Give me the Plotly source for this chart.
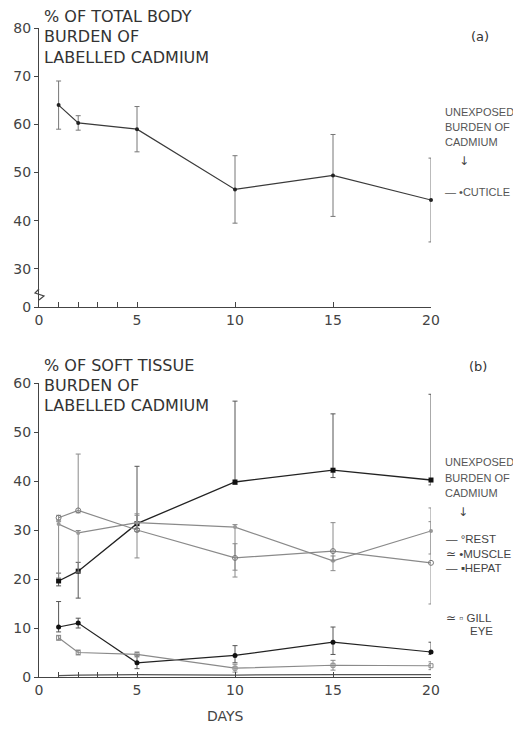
import plotly.graph_objects as go

# ---------------- data ----------------
days = [1, 2, 5, 10, 15, 20]
x_tickvals = [0, 1, 2, 3, 4, 5, 10, 15, 20]
x_ticktext = ["0", "", "", "", "", "5", "10", "15", "20"]

# panel (a): cuticle, % of total body burden
cuticle = [64.0, 60.3, 59.0, 46.5, 49.4, 44.3]
cuticle_err = [5.0, 1.5, 4.7, 7.0, 8.5, 8.7]
a_break_value = 22.1
a_tickvals = [a_break_value, 30, 40, 50, 60, 70, 80]
a_ticktext = ["0", "30", "40", "50", "60", "70", "80"]

# panel (b): % of soft tissue burden
hepat = [19.6, 21.6, 31.3, 39.8, 42.2, 40.2]
hepat_up = [1.6, 1.8, 11.7, 16.5, 11.5, 17.5]
hepat_dn = [1.0, 5.5, 1.0, 0.5, 1.5, 1.0]

muscle = [31.2, 29.4, 31.5, 30.6, 23.7, 29.8]
muscle_up = [0.5, 0.5, 1.8, 0.5, 1.0, 4.7]
muscle_dn = [11.0, 8.0, 1.8, 10.2, 2.0, 4.7]

rest = [32.5, 34.0, 30.0, 24.3, 25.7, 23.3]
rest_up = [0.5, 11.5, 3.0, 2.9, 5.8, 8.4]
rest_dn = [0.5, 0.5, 5.7, 2.5, 2.0, 8.4]

gill = [10.2, 11.0, 2.9, 4.4, 7.1, 5.1]
gill_up = [5.2, 1.0, 1.6, 2.0, 3.1, 2.0]
gill_dn = [1.0, 1.0, 1.2, 1.5, 2.5, 0.5]

eye = [8.0, 5.0, 4.6, 1.8, 2.4, 2.3]
eye_err = [0.5, 0.5, 0.5, 0.8, 1.0, 0.8]

other = [0.3, 0.4, 0.5, 0.4, 0.5, 0.5]

b_tickvals = [0, 10, 20, 30, 40, 50, 60]

# ---------------- layout helpers ----------------
# page body has an 8px margin, so the figure is 8px smaller than the window
OFF = 8
W, H = 521 - OFF, 729 - OFF
PLOT_L, PLOT_R, PLOT_T, PLOT_B = 39, 431, 28, 677   # plot area in window pixels
L = PLOT_L - OFF
R = W - (PLOT_R - OFF)
T = PLOT_T - OFF
B = H - (PLOT_B - OFF)
PW = PLOT_R - PLOT_L
PH = PLOT_B - PLOT_T

def px(xp):
    return (xp - PLOT_L) / PW
def py(yp):
    return (PLOT_B - yp) / PH

FONT = "DejaVu Sans"
LFONT = "Liberation Sans"
INK = "#333333"
GREY = "#8a8a8a"

fig = go.Figure()

def err(arr, arrm=None, color=GREY):
    d = dict(type="data", array=arr, color=color, thickness=1, width=2.5, visible=True)
    if arrm is not None:
        d["symmetric"] = False
        d["arrayminus"] = arrm
    return d

# panel a
fig.add_trace(go.Scatter(x=days, y=cuticle, mode="lines+markers", name="CUTICLE",
                         line=dict(color="#3a3a3a", width=1.2),
                         marker=dict(symbol="circle", size=4, color="#222"),
                         error_y=err(cuticle_err, color="#777"),
                         xaxis="x", yaxis="y", cliponaxis=False))

# panel b
fig.add_trace(go.Scatter(x=days, y=hepat, mode="lines+markers", name="HEPAT",
                         line=dict(color="#222", width=1.3),
                         marker=dict(symbol="square", size=5, color="#111"),
                         error_y=err(hepat_up, hepat_dn, color="#555"),
                         xaxis="x2", yaxis="y2", cliponaxis=False))
fig.add_trace(go.Scatter(x=days, y=muscle, mode="lines+markers", name="MUSCLE",
                         line=dict(color=GREY, width=1.2),
                         marker=dict(symbol="circle", size=4, color="#999"),
                         error_y=err(muscle_up, muscle_dn),
                         xaxis="x2", yaxis="y2", cliponaxis=False))
fig.add_trace(go.Scatter(x=days, y=rest, mode="lines+markers", name="REST",
                         line=dict(color=GREY, width=1.2),
                         marker=dict(symbol="circle-open", size=5, color="#777", line=dict(width=1)),
                         error_y=err(rest_up, rest_dn),
                         xaxis="x2", yaxis="y2", cliponaxis=False))
fig.add_trace(go.Scatter(x=days, y=gill, mode="lines+markers", name="GILL",
                         line=dict(color="#222", width=1.2),
                         marker=dict(symbol="circle", size=5, color="#111"),
                         error_y=err(gill_up, gill_dn, color="#555"),
                         xaxis="x2", yaxis="y2", cliponaxis=False))
fig.add_trace(go.Scatter(x=days, y=eye, mode="lines+markers", name="EYE",
                         line=dict(color=GREY, width=1.2),
                         marker=dict(symbol="square-open", size=4, color="#888", line=dict(width=1)),
                         error_y=err(eye_err),
                         xaxis="x2", yaxis="y2", cliponaxis=False))
fig.add_trace(go.Scatter(x=days, y=other, mode="lines", name="",
                         line=dict(color="#555", width=1.2),
                         xaxis="x2", yaxis="y2", cliponaxis=False))

a_bottom = py(307)
b_top = py(383)

axis_common = dict(showgrid=False, zeroline=False, showline=True, linecolor="#444",
                   linewidth=1.2, tickfont=dict(family=FONT, size=14, color="#444"),
                   tickcolor="#444", automargin=False)

fig.update_layout(
    width=W, height=H,
    margin=dict(l=L, r=R, t=T, b=B, autoexpand=False),
    paper_bgcolor="white", plot_bgcolor="white",
    showlegend=False,
    xaxis=dict(domain=[0, 1], range=[0, 20], anchor="y", tickvals=x_tickvals,
               ticktext=x_ticktext, ticks="inside", ticklen=5, **axis_common),
    yaxis=dict(domain=[a_bottom, 1], range=[a_break_value, 80], anchor="x",
               tickvals=a_tickvals, ticktext=a_ticktext, ticks="outside", ticklen=4,
               **axis_common),
    xaxis2=dict(domain=[0, 1], range=[0, 20], anchor="y2", tickvals=x_tickvals,
                ticktext=x_ticktext, ticks="inside", ticklen=5, **axis_common),
    yaxis2=dict(domain=[0, b_top], range=[0, 60], anchor="x2",
                tickvals=b_tickvals, ticks="outside", ticklen=4, **axis_common),
)

def note(text, xp, yp, size=14, xanchor="left", yanchor="middle", color=INK, family=FONT):
    fig.add_annotation(text=text, x=px(xp), y=py(yp), xref="paper", yref="paper",
                       showarrow=False, xanchor=xanchor, yanchor=yanchor, align="left",
                       borderpad=0, borderwidth=0,
                       font=dict(family=family, size=size, color=color))

# panel a texts
note("% OF TOTAL BODY", 44, 16, size=16)
note("BURDEN OF", 44, 37, size=16)
note("LABELLED CADMIUM", 44, 57, size=16)
note("(a)", 480, 37, size=13, xanchor="center")
note("UNEXPOSED", 445, 112, size=11, color="#555", family=LFONT)
note("BURDEN OF", 445, 127, size=11, color="#555", family=LFONT)
note("CADMIUM", 445, 142, size=11, color="#555", family=LFONT)
note("↓", 464, 161, size=12, xanchor="center", color="#444")
note("— •CUTICLE", 445, 192, size=11, color="#555", family=LFONT)

# panel b texts
note("% OF SOFT TISSUE", 44, 365, size=16)
note("BURDEN OF", 44, 385, size=16)
note("LABELLED CADMIUM", 44, 405, size=16)
note("(b)", 478, 366, size=13, xanchor="center")
note("UNEXPOSED", 445, 462, size=11, color="#555", family=LFONT)
note("BURDEN OF", 445, 478, size=11, color="#555", family=LFONT)
note("CADMIUM", 445, 493, size=11, color="#555", family=LFONT)
note("↓", 463, 512, size=12, xanchor="center", color="#444")
note("— °REST", 446, 539, size=11.5, color="#444", family=LFONT)
note("≃ •MUSCLE", 446, 554, size=11.5, color="#444", family=LFONT)
note("— ▪HEPAT", 446, 568, size=11.5, color="#444", family=LFONT)
note("≃ ▫ GILL", 446, 618, size=11.5, color="#444", family=LFONT)
note("EYE", 470, 631, size=11.5, color="#444", family=LFONT)
note("DAYS", 225, 716, size=14, xanchor="center", color="#444")

# axis break mark on the panel (a) y axis
zx0, zx1 = px(35), px(44)
fig.add_shape(type="path", xref="paper", yref="paper",
              path=f"M {px(39)},{py(300)} L {zx1},{py(296)} L {zx0},{py(293)} L {px(39)},{py(289)}",
              line=dict(color="#444", width=1.2))

fig.write_html("out.html")
